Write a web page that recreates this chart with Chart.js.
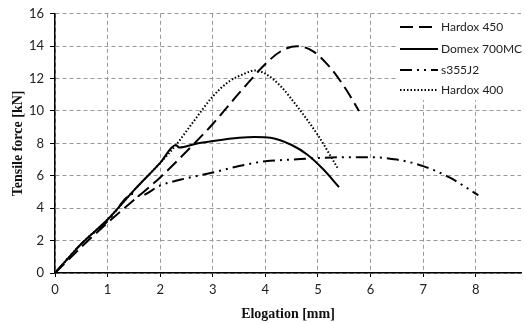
<!DOCTYPE html>
<html>
<head>
<meta charset="utf-8">
<script src="https://cdn.jsdelivr.net/npm/chart.js@4/dist/chart.umd.min.js"></script>
<style>
  html, body { margin: 0; padding: 0; background: #fff; }
  #wrap { width: 526px; height: 323px; }
</style>
</head>
<body>
<div id="wrap"><canvas id="myChart" width="526" height="323"></canvas></div>
<script>
// elongation [mm] / force [kN]
const hardox450X = [0, 0.5, 1, 1.5, 2, 2.5, 3, 3.5, 4, 4.3, 4.6, 4.9, 5.2, 5.5, 5.78]
const hardox450Y = [0, 1.6, 3.1, 4.5, 5.9, 7.5, 9.2, 11.1, 12.9, 13.7, 14.0, 13.7, 12.8, 11.5, 10.0]

const domexX = [0, 0.5, 1, 1.5, 2, 2.3, 2.36, 2.7, 3, 3.5, 3.8, 4.1, 4.5, 4.8, 5.1, 5.4]
const domexY = [0, 1.8, 3.3, 5.1, 6.8, 7.9, 7.75, 8.0, 8.15, 8.35, 8.4, 8.35, 7.9, 7.3, 6.4, 5.3]

const s355X = [0, 0.5, 1, 1.5, 1.6, 2, 2.5, 3, 3.5, 4, 4.5, 5, 5.5, 6, 6.5, 7, 7.5, 8.05]
const s355Y = [0, 1.8, 3.2, 4.9, 4.75, 5.4, 5.85, 6.2, 6.6, 6.9, 7.0, 7.1, 7.15, 7.15, 7.0, 6.6, 5.9, 4.8]

const hardox400X = [0, 0.5, 1, 1.5, 2, 2.3, 2.6, 3, 3.3, 3.6, 3.8, 4.0, 4.3, 4.6, 5.0, 5.37]
const hardox400Y = [0, 1.8, 3.3, 5.1, 6.8, 7.9, 9.2, 10.9, 11.8, 12.3, 12.5, 12.3, 11.5, 10.3, 8.5, 6.5]

const seriesNames = ['Hardox 450', 'Domex 700MC', 's355J2', 'Hardox 400']
const xTicks = [0, 1, 2, 3, 4, 5, 6, 7, 8]

const pts = (xs, ys) => xs.map((x, i) => ({ x: x, y: ys[i] }))

const dashes = [[13, 6], [], [12, 5, 2, 5, 2, 5], [1.5, 2]]

const mkSet = (name, data, i) => ({
    label: name,
    data: data,
    borderColor: '#000',
    borderWidth: 2,
    borderDash: dashes[i],
    pointRadius: 0,
    fill: false,
    cubicInterpolationMode: 'monotone'
})

// legend drawn by hand, white box over the grid
const legendBox = {
    id: 'legendBox',
    afterDraw(chart) {
        const ctx = chart.ctx
        ctx.save()
        ctx.fillStyle = '#fff'
        ctx.fillRect(396, 14, 130, 86)
        const rows = [27, 49, 70, 90]
        ctx.font = '12px Lato'
        ctx.textBaseline = 'middle'
        rows.forEach((y, i) => {
            ctx.strokeStyle = '#000'
            ctx.lineWidth = 2
            ctx.setLineDash(dashes[i])
            ctx.beginPath()
            ctx.moveTo(400, y)
            ctx.lineTo(438, y)
            ctx.stroke()
            ctx.setLineDash([])
            ctx.fillStyle = '#222'
            ctx.fillText(seriesNames[i], 441, y)
        })
        ctx.restore()
    }
}

const ctx = document.querySelector('#myChart').getContext('2d')

let myChart = new Chart(ctx, {
    type: 'line',
    data: {
        datasets: [
            mkSet(seriesNames[0], pts(hardox450X, hardox450Y), 0),
            mkSet(seriesNames[1], pts(domexX, domexY), 1),
            mkSet(seriesNames[2], pts(s355X, s355Y), 2),
            mkSet(seriesNames[3], pts(hardox400X, hardox400Y), 3)
        ]
    },
    options: {
        responsive: false,
        animation: false,
        layout: { padding: { top: 12, right: 0, left: 0, bottom: 0 } },
        plugins: {
            legend: { display: false },
            tooltip: { enabled: false }
        },
        scales: {
            x: {
                type: 'linear',
                min: 0,
                max: 8.86,
                afterFit: s => { s.height = 50 },
                ticks: {
                    stepSize: 1,
                    padding: 5,
                    color: '#222',
                    font: { family: 'Lato', size: 13 },
                    callback: v => xTicks.includes(v) ? v : ''
                },
                grid: {
                    color: c => xTicks.includes(c.tick.value) ? '#999' : 'rgba(0,0,0,0)',
                    tickBorderDash: [],
                    tickColor: c => xTicks.includes(c.tick.value) ? '#000' : 'rgba(0,0,0,0)',
                    tickLength: 4
                },
                border: { color: '#000', width: 1.5, dash: [4, 3] },
                title: {
                    display: true,
                    text: 'Elogation [mm]',
                    color: '#111',
                    font: { family: 'Liberation Serif', size: 14, weight: 'bold' },
                    padding: { top: 2, bottom: 0 }
                }
            },
            y: {
                min: 0,
                max: 16,
                afterFit: s => { s.width = 55 },
                ticks: {
                    stepSize: 2,
                    padding: 6,
                    color: '#222',
                    font: { family: 'Lato', size: 13 }
                },
                grid: {
                    color: '#999',
                    tickBorderDash: [],
                    tickColor: '#000',
                    tickLength: 5
                },
                border: { color: '#000', width: 1.5, dash: [4, 3] },
                title: {
                    display: true,
                    text: 'Tensile force [kN]',
                    color: '#111',
                    font: { family: 'Liberation Serif', size: 14, weight: 'bold' },
                    padding: { top: 10, bottom: 0 }
                }
            }
        }
    },
    plugins: [legendBox]
})
</script>
</body>
</html>
